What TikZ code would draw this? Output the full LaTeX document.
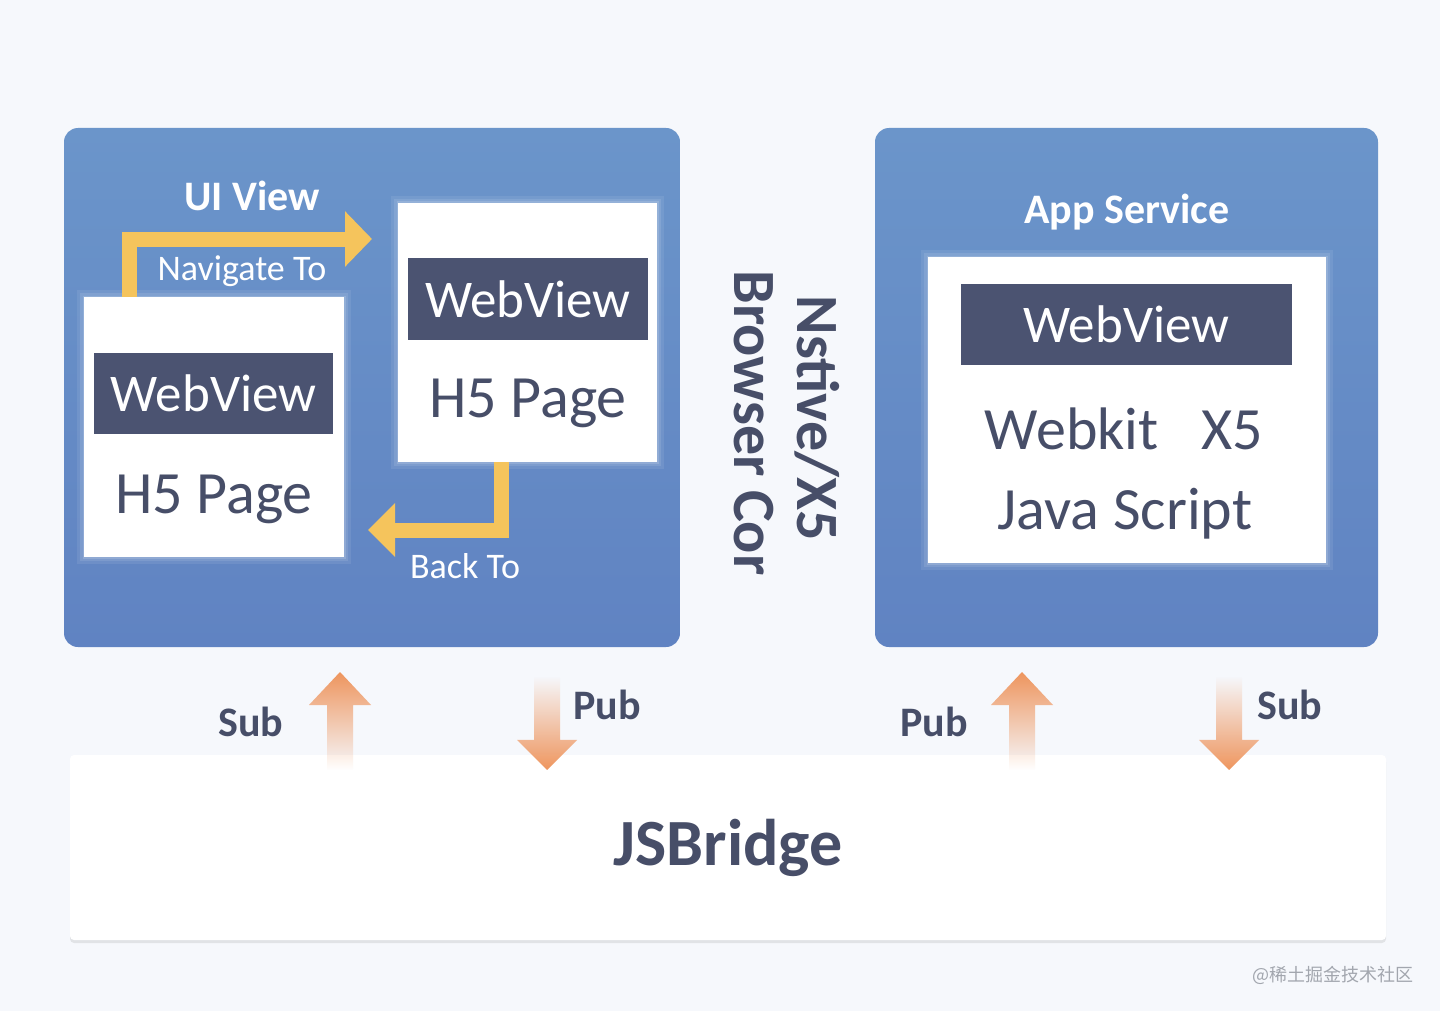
\documentclass[tikz,border=0pt]{standalone}
\usepackage{fontspec}
\setmainfont{Carlito}
\newfontfamily\cjkfont{Noto Sans CJK SC}
\usetikzlibrary{arrows.meta,shadows,fadings}
\definecolor{bg}{HTML}{F6F8FC}
\definecolor{paneltop}{HTML}{6B95CA}
\definecolor{panelbot}{HTML}{6083C2}
\definecolor{barc}{HTML}{4B5371}
\definecolor{ink}{HTML}{474E68}
\definecolor{yel}{HTML}{F5C45C}
\definecolor{org}{HTML}{EE955E}
\definecolor{wm}{HTML}{A2A6AE}
\newcommand\myfs[1]{\fontsize{#1}{#1}\selectfont}
\tikzfading[name=fadeup, top color=transparent!0, middle color=transparent!25, bottom color=transparent!100]
\tikzfading[name=fadedown, top color=transparent!100, middle color=transparent!30, bottom color=transparent!0]
\begin{document}
\begin{tikzpicture}[x=1pt,y=-1pt,
  panel/.style={rounded corners=14pt, top color=paneltop, bottom color=panelbot, draw=none, inner sep=0pt},
  page/.style={fill=white, inner sep=0pt,
    preaction={draw=white, draw opacity=0.08, line width=14pt},
    preaction={draw=white, draw opacity=0.10, line width=8pt},
    preaction={draw=white, draw opacity=0.15, line width=3pt}},
  barbox/.style={fill=barc, inner sep=0pt, text=white, font=\myfs{53}},
  bridge/.style={fill=white, rounded corners=4pt, inner sep=0pt,
    drop shadow={shadow xshift=0pt, shadow yshift=-3pt, opacity=0.12, fill=black!70}},
  yarrow/.style={draw=yel, line width=15pt},
  lbl/.style={inner sep=0pt, anchor=base},
  wlbl/.style={lbl, text=white},
  dlbl/.style={lbl, text=ink},
  uparr/.pic={\fill[org, path fading=fadeup] (0,0) -- (31,33) -- (13,33) -- (13,98) -- (-13,98) -- (-13,33) -- (-31,33) -- cycle;},
  downarr/.pic={\fill[org, path fading=fadedown] (-13,0) -- (13,0) -- (13,64) -- (30,64) -- (0,94) -- (-30,64) -- (-13,64) -- cycle;}
]
\fill[bg] (0,0) rectangle (1440,1011);

% panels
\node[panel, minimum width=616pt, minimum height=519pt] (uiview) at (372,387.5) {};
\node[panel, minimum width=503pt, minimum height=519pt] (appsvc) at (1126.5,387.5) {};

% left panel contents
\node[wlbl, font=\bfseries\myfs{42}] (uititle) at (252,211) {UI View};
\node[page, minimum width=260pt, minimum height=260pt] (p1) at (214,427) {};
\node[barbox, minimum width=239pt, minimum height=81pt] (b1) at (213.5,393.5) {WebView};
\node[dlbl, font=\myfs{60}] (h1) at (214,513.5) {H5 Page};
\node[page, minimum width=259pt, minimum height=259pt] (p2) at (527.5,332.5) {};
\node[barbox, minimum width=240pt, minimum height=82pt] (b2) at (528,299) {WebView};
\node[dlbl, font=\myfs{60}] (h2) at (528,417) {H5 Page};

\coordinate (navend) at (372,239);
\coordinate (backend) at (368,530);
\draw[yarrow, -{Triangle[length=27pt,width=54pt]}] ([xshift=46pt]p1.north west) |- (navend);
\draw[yarrow, -{Triangle[length=27pt,width=52pt]}] ([xshift=104pt]p2.south west) |- (backend);
\node[wlbl, font=\myfs{36}] (navlbl) at (242,280) {Navigate To};
\node[wlbl, font=\myfs{36}] (backlbl) at (465,578) {Back To};

% vertical label
\node[dlbl, font=\bfseries\myfs{60}, rotate=-90] (native) at (797,418.5) {Nstive/X5};
\node[dlbl, font=\bfseries\myfs{60}, rotate=-90] (browser) at (734,423) {Browser Cor};

% right panel contents
\node[wlbl, font=\bfseries\myfs{42}] (apptitle) at (1127,223) {App Service};
\node[page, minimum width=398pt, minimum height=306pt] (p3) at (1127,410) {};
\node[barbox, minimum width=331pt, minimum height=81pt] (b3) at (1126.5,324.5) {WebView};
\node[dlbl, font=\myfs{60}] (kit) at (1124,449) {Webkit\hspace{43pt}X5};
\node[dlbl, font=\myfs{60}] (js) at (1125,529) {Java Script};

% bridge
\node[bridge, minimum width=1316pt, minimum height=185pt] (jsb) at (728,847.5) {};
\node[dlbl, font=\bfseries\myfs{66}] (jsbt) at (728,865) {JSBridge};

% pub/sub arrows
\pic at (340,672) {uparr};
\pic at (547,676) {downarr};
\pic at (1022,672) {uparr};
\pic at (1229,676) {downarr};
\node[dlbl, font=\bfseries\myfs{42}] (sub1) at (251,736) {Sub};
\node[dlbl, font=\bfseries\myfs{42}] (pub1) at (607,719) {Pub};
\node[dlbl, font=\bfseries\myfs{42}] (pub2) at (934,736) {Pub};
\node[dlbl, font=\bfseries\myfs{42}] (sub2) at (1290,719) {Sub};

% watermark
\node[lbl, text=wm, font=\cjkfont\myfs{18}] (wmk) at (1333,981) {@稀土掘金技术社区};
\end{tikzpicture}
\end{document}
